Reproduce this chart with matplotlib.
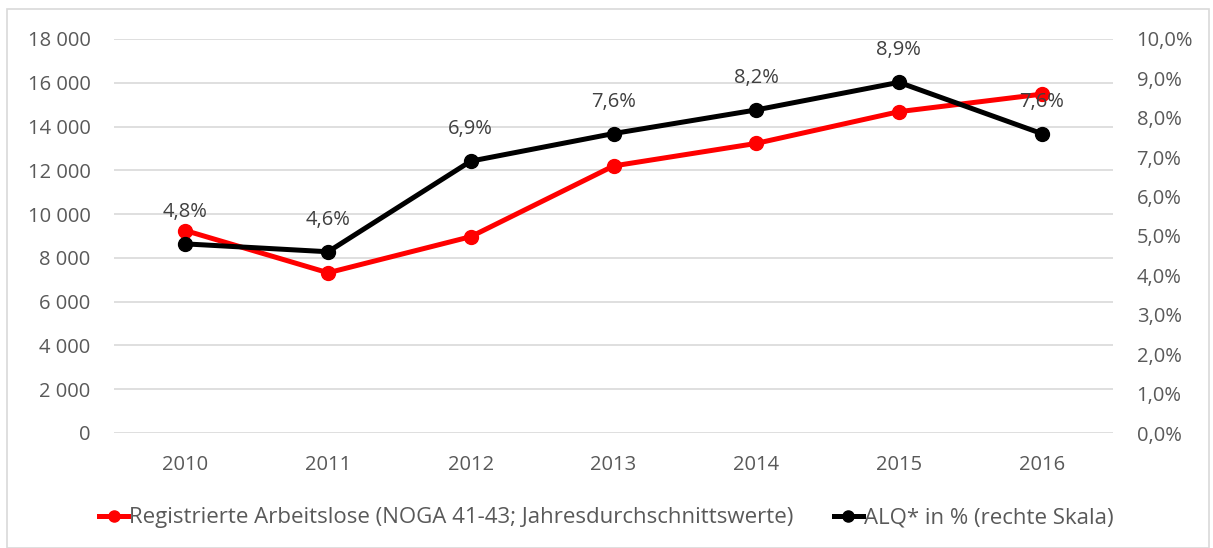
import matplotlib.pyplot as plt
from matplotlib.patches import Rectangle

years = ['2010', '2011', '2012', '2013', '2014', '2015', '2016']
arbeitslose = [9250, 7320, 8970, 12200, 13230, 14680, 15480]
alq = [4.8, 4.6, 6.9, 7.6, 8.2, 8.9, 7.6]
alq_labels = ['4,8%', '4,6%', '6,9%', '7,6%', '8,2%', '8,9%', '7,6%']

plt.rcParams['font.family'] = ['Open Sans', 'DejaVu Sans']
grey = '#595959'

fig = plt.figure(figsize=(12.13, 5.48), dpi=100)
fig.patches.append(Rectangle((7/1213, 0.0), 1202/1213, 1 - 9/548, transform=fig.transFigure,
                             fill=False, edgecolor='#d9d9d9', linewidth=1.2))
ax = fig.add_axes([114/1213, 1 - 433/548, 999/1213, 394/548])
ax2 = ax.twinx()

x = range(len(years))
line1, = ax.plot(x, arbeitslose, color='#ff0000', linewidth=3.6, marker='o', markersize=10, zorder=3)
line2, = ax2.plot(x, alq, color='black', linewidth=3.6, marker='o', markersize=10, zorder=3)

for i, lab in enumerate(alq_labels):
    ax2.annotate(lab, (i, alq[i]), xytext=(0, 23), textcoords='offset points',
                 ha='center', va='center', fontsize=14.5, color='#404040')

ax.set_xlim(-0.5, 6.5)
ax.set_ylim(0, 18000)
ax2.set_ylim(0, 10)
ax.set_yticks(range(0, 18001, 2000))
ax.set_yticklabels([f'{v:,}'.replace(',', ' ') for v in range(0, 18001, 2000)])
ax2.set_yticks(range(0, 11))
ax2.set_yticklabels([f'{v},0%' for v in range(0, 11)])
ax.set_xticks(list(x))
ax.set_xticklabels(years)

ax.grid(axis='y', color='#d9d9d9', linewidth=1.2)
ax.set_axisbelow(True)
for a in (ax, ax2):
    for s in a.spines.values():
        s.set_visible(False)
    a.tick_params(length=0, labelsize=14.5, labelcolor=grey)
ax.tick_params(axis='y', pad=17)
ax.tick_params(axis='x', pad=16)
ax2.tick_params(axis='y', pad=17)
ax.set_zorder(ax2.get_zorder() - 1)
ax2.patch.set_visible(False)

fig.legend([line1, line2], ['Registrierte Arbeitslose (NOGA 41-43; Jahresdurchschnittswerte)',
                            'ALQ* in % (rechte Skala)'],
           loc='center', bbox_to_anchor=(0.5, 1 - 518/548), ncol=2, frameon=False,
           fontsize=16, labelcolor=grey, handlelength=1.3, handletextpad=0.05, columnspacing=1.8,
           markerscale=0.8)

fig.savefig('out.png', dpi=100)
